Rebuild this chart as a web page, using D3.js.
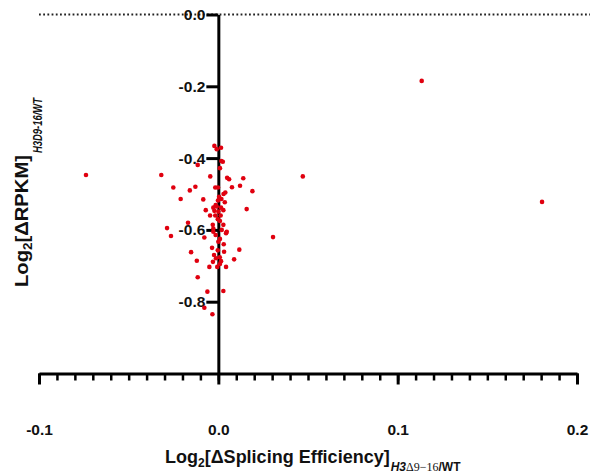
<!DOCTYPE html>
<html>
<head>
<meta charset="utf-8">
<script src="https://cdn.jsdelivr.net/npm/d3@7"></script>
<style>
  html, body { margin: 0; padding: 0; background: #fff; }
  svg { display: block; font-family: "Liberation Sans", Arial, sans-serif; }
</style>
</head>
<body>
<svg id="chart" width="590" height="475"></svg>
<script>
// Per-gene change in splicing efficiency (x) vs change in expression (y), log2 H3Δ9-16 / WT
const splicingLog2 = [
  -0.0738, -0.0318, 0.1134, 0.0471, 0.1805, 0.0305, -0.0115, -0.0251, -0.0159, -0.0128,
  -0.0210, -0.0084, -0.0070, -0.0169, -0.0286, -0.0264, -0.0078, -0.0152, -0.0120, -0.0115,
  -0.0061, 0.0028, -0.0078, -0.0033, 0.0117, 0.0088, 0.0190, 0.0158, 0.0139, 0.0121,
  0.0049, 0.0060, 0.0076, 0.0039, 0.0029, -0.0022, -0.0009, 0.0015, 0.0017, 0.0025,
  0.0009, -0.0045, -0.0017, -0.0002, 0.0004, -0.0002, 0.0017, 0.0036, -0.0015, -0.0028,
  -0.0009, 0.0015, -0.0022, 0.0000, 0.0028, -0.0046, -0.0017, 0.0013, -0.0003, 0.0009,
  -0.0031, 0.0028, -0.0028, 0.0019, 0.0047, -0.0028, 0.0043, -0.0015, 0.0009, 0.0000,
  0.0030, -0.0035, -0.0003, 0.0032, -0.0024, -0.0013, 0.0008, -0.0030, 0.0015, -0.0050,
  -0.0006, 0.0043, 0.0009
];
const rpkmLog2 = [
  -0.447, -0.447, -0.185, -0.451, -0.522, -0.620, -0.419, -0.482, -0.490, -0.480,
  -0.514, -0.515, -0.545, -0.580, -0.595, -0.617, -0.621, -0.662, -0.686, -0.732,
  -0.772, -0.770, -0.817, -0.835, -0.655, -0.682, -0.492, -0.542, -0.456, -0.477,
  -0.455, -0.459, -0.481, -0.496, -0.500, -0.366, -0.375, -0.371, -0.408, -0.410,
  -0.428, -0.451, -0.482, -0.482, -0.508, -0.518, -0.514, -0.523, -0.531, -0.538,
  -0.535, -0.538, -0.547, -0.549, -0.545, -0.560, -0.560, -0.560, -0.570, -0.575,
  -0.586, -0.586, -0.596, -0.600, -0.605, -0.605, -0.609, -0.614, -0.625, -0.633,
  -0.640, -0.650, -0.657, -0.661, -0.670, -0.679, -0.676, -0.689, -0.687, -0.703,
  -0.703, -0.703, -0.695
];

const xDomain = [-0.1, 0.2];
const yDomain = [-1.0, 0.0];
const xMajorTicks = [-0.1, 0.0, 0.1, 0.2];
const xMinorTicks = d3.range(-10, 21).map(i => i / 100);
const yMajorTicks = [0.0, -0.2, -0.4, -0.6, -0.8];
const referenceLevel = 0.0;

const points = splicingLog2.map((v, i) => ({ x: v, y: rpkmLog2[i] }));

const svg = d3.select("#chart");
const x = d3.scaleLinear().domain(xDomain).range([39, 577]);
const y = d3.scaleLinear().domain(yDomain).range([373.5, 14.5]);

// dotted reference line at zero change in RPKM
svg.append("line")
  .attr("x1", x(xDomain[0])).attr("x2", 590)
  .attr("y1", y(referenceLevel)).attr("y2", y(referenceLevel))
  .attr("stroke", "#222").attr("stroke-width", 2)
  .attr("stroke-dasharray", "1.8,2.4");

const fmt = d => d.toFixed(1);

// x axis: minor ticks every 0.01, longer major ticks every 0.1
const xMinor = svg.append("g")
  .attr("transform", `translate(0,${y(yDomain[0])})`)
  .call(d3.axisBottom(x).tickValues(xMinorTicks).tickSize(7).tickSizeOuter(0).tickFormat(""));
xMinor.select(".domain").attr("stroke-width", 3).attr("stroke", "#000");
xMinor.selectAll(".tick line").attr("stroke-width", 2.5).attr("stroke", "#000");

const xMajor = svg.append("g")
  .attr("transform", `translate(0,${y(yDomain[0])})`)
  .call(d3.axisBottom(x).tickValues(xMajorTicks).tickSize(11).tickSizeOuter(0).tickPadding(39).tickFormat(fmt));
xMajor.select(".domain").remove();
xMajor.selectAll(".tick line").attr("stroke-width", 3).attr("stroke", "#000");
xMajor.selectAll(".tick text")
  .attr("font-size", 15.5).attr("font-weight", "bold").attr("fill", "#111")
  .attr("font-family", "'Liberation Sans', Arial, sans-serif");

// y axis crossing at x = 0
const yAxis = svg.append("g")
  .attr("transform", `translate(${x(0)},0)`)
  .call(d3.axisLeft(y).tickValues(yMajorTicks).tickSize(12).tickSizeOuter(0).tickPadding(1).tickFormat(fmt));
yAxis.select(".domain").attr("stroke-width", 3).attr("stroke", "#000");
yAxis.selectAll(".tick line").attr("stroke-width", 3).attr("stroke", "#000");
yAxis.selectAll(".tick text")
  .attr("font-size", 15.5).attr("font-weight", "bold").attr("fill", "#111")
  .attr("font-family", "'Liberation Sans', Arial, sans-serif");

// gene points
svg.append("g").selectAll("circle").data(points).join("circle")
  .attr("cx", d => x(d.x)).attr("cy", d => y(d.y))
  .attr("r", 2.3).attr("fill", "#e0000f");

// x axis title
const xt = svg.append("text")
  .attr("x", 165).attr("y", 463)
  .attr("font-size", 18).attr("font-weight", "bold").attr("fill", "#111");
xt.append("tspan").text("Log");
xt.append("tspan").attr("font-size", 12).attr("dy", 4).text("2");
xt.append("tspan").attr("dy", -4).text("[ΔSplicing Efficiency]");
const xtLen = xt.node().getComputedTextLength();
const xs = svg.append("text")
  .attr("x", 165 + xtLen + 1).attr("y", 471)
  .attr("font-size", 12).attr("fill", "#111");
xs.append("tspan").attr("font-weight", "bold").attr("font-style", "italic").text("H3");
xs.append("tspan").attr("font-family", "'Liberation Serif', 'Times New Roman', serif").text("Δ9−16");
xs.append("tspan").attr("font-weight", "bold").text("/WT");

// y axis title (rotated)
const yg = svg.append("g").attr("transform", "translate(28,287) rotate(-90)");
const yt = yg.append("text")
  .attr("x", 0).attr("y", 0)
  .attr("font-size", 18).attr("font-weight", "bold").attr("fill", "#111")
  .attr("textLength", 132).attr("lengthAdjust", "spacingAndGlyphs");
yt.append("tspan").text("Log");
yt.append("tspan").attr("font-size", 12).attr("dy", 4).text("2");
yt.append("tspan").attr("dy", -4).text("[ΔRPKM]");
yg.append("text")
  .attr("x", 134).attr("y", 14)
  .attr("font-size", 13.5).attr("font-weight", "bold").attr("font-style", "italic").attr("fill", "#111")
  .attr("textLength", 55).attr("lengthAdjust", "spacingAndGlyphs")
  .text("H3D9-16/WT");
</script>
</body>
</html>
